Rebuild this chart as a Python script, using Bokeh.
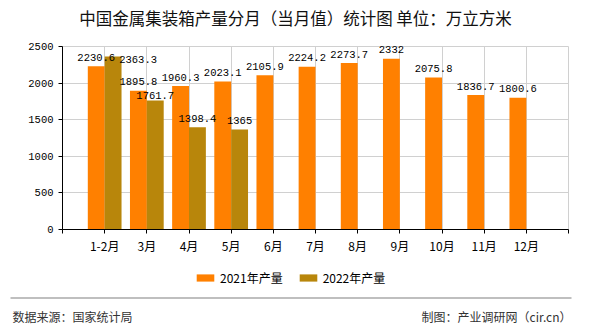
from bokeh.plotting import figure
from bokeh.models import (ColumnDataSource, Range1d, FixedTicker, Legend, LegendItem, Grid)
from bokeh.embed import file_html
from bokeh.resources import INLINE
from bokeh.core.properties import value

# ---------------- data ----------------
title_text = "中国金属集装箱产量分月（当月值）统计图 单位：万立方米"
months = ["1-2月", "3月", "4月", "5月", "6月", "7月", "8月", "9月", "10月", "11月", "12月"]
prod_2021 = [2230.6, 1895.8, 1960.3, 2023.1, 2105.9, 2224.2, 2273.7, 2332, 2075.8, 1836.7, 1800.6]
prod_2022 = [2363.3, 1761.7, 1398.4, 1365]
series_names = ["2021年产量", "2022年产量"]
y_ticks = [0, 500, 1000, 1500, 2000, 2500]
source_text = "数据来源：国家统计局"
maker_text = "制图：产业调研网（cir.cn）"

# ---------------- style ----------------
W, H = 590, 330
FL, FR, FT, FB = 62, 568, 46, 229          # plot-area box on the canvas (px)
c2021 = "#FF8000"
c2022 = "#B8860B"
grid_c = "#D0D0D0"
cjk = "Noto Sans CJK SC"
num_font = "Liberation Mono"
label_gap = -9                 # label baseline above bar top (px)
shift22_x = [25, 0, 0, 0]      # label nudges (px) used to avoid overlaps
shift22_y = [11.5, 4, 0, 0]
bar_w = 0.40
half = 0.20

n = len(months)
x0, x1 = 0, n + 1
y0, y1 = y_ticks[0], y_ticks[-1]
kx = (FR - FL) / (x1 - x0)
ky = (FB - FT) / (y1 - y0)
x_range = Range1d(x0 - FL / kx, x1 + (W - FR) / kx)
y_range = Range1d(y0 - (H - FB) / ky, y1 + FT / ky)

p = figure(width=W, height=H, x_range=x_range, y_range=y_range,
           output_backend="svg", toolbar_location=None, min_border=0)
p.outline_line_color = None
p.extra_x_ranges = {"px": Range1d(0, W)}
p.extra_y_ranges = {"px": Range1d(H, 0)}

pos = [i + 1 for i in range(n)]
src21 = ColumnDataSource(dict(
    x=[q - half for q in pos[:len(prod_2021)]], y=prod_2021,
    t=[f"{v:g}" for v in prod_2021]))
src22 = ColumnDataSource(dict(
    x=[q + half for q in pos[:len(prod_2022)]], y=prod_2022,
    t=[f"{v:g}" for v in prod_2022], dx=shift22_x,
    dy=[label_gap + d for d in shift22_y]))

# grid
p.xgrid.ticker = FixedTicker(ticks=list(range(x0, x1 + 1)))
p.ygrid.ticker = FixedTicker(ticks=y_ticks)
p.xgrid.grid_line_color = grid_c
p.ygrid.grid_line_color = grid_c
if "cross_bounds" in Grid.properties():
    p.xgrid.cross_bounds = (y0, y1)
    p.ygrid.cross_bounds = (x0, x1)
    p.xgrid.bounds = (x0, x1)
    p.ygrid.bounds = (y0, y1)
else:
    p.xgrid.visible = False
    p.ygrid.visible = False
    xs = list(range(x0, x1 + 1))
    p.segment(x0=xs, y0=[y0] * len(xs), x1=xs, y1=[y1] * len(xs), line_color=grid_c)
    p.segment(x0=[x0] * len(y_ticks), y0=y_ticks, x1=[x1] * len(y_ticks), y1=y_ticks,
              line_color=grid_c)

r1 = p.vbar(x="x", top="y", width=bar_w, source=src21, fill_color=c2021, line_color=None)
r2 = p.vbar(x="x", top="y", width=bar_w, source=src22, fill_color=c2022, line_color=None)

p.text(x="x", y="y", text="t", source=src21, text_align="center", text_baseline="alphabetic",
       y_offset=label_gap, text_font=value(num_font), text_font_size="10.5px",
       text_color="black")
p.text(x="x", y="y", text="t", source=src22, text_align="center", text_baseline="alphabetic",
       x_offset="dx", y_offset="dy", text_font=value(num_font), text_font_size="10.5px",
       text_color="black")

# axes (drawn at the data origin)
p.xaxis.fixed_location = y0
p.yaxis.fixed_location = x0
p.xaxis.bounds = (x0, x1)
p.yaxis.bounds = (y0, y1)
p.xaxis.ticker = FixedTicker(ticks=list(range(x0, x1 + 1)))
overrides = {x0: "", x1: ""}
for i, m in enumerate(months):
    overrides[i + 1] = m
p.xaxis.major_label_overrides = overrides
p.xaxis.major_label_text_font = cjk
p.xaxis.major_label_text_font_size = "12px"
p.xaxis.major_label_standoff = 3

p.yaxis.ticker = FixedTicker(ticks=y_ticks)
p.yaxis.major_label_text_font = num_font
p.yaxis.major_label_text_font_size = "10.5px"
p.yaxis.major_label_standoff = 5
for ax in (p.xaxis, p.yaxis):
    ax.major_label_text_color = "black"
    ax.major_tick_in = 0
    ax.major_tick_out = 4
    ax.minor_tick_line_color = None
    ax.axis_line_color = "black"
    ax.major_tick_line_color = "black"

# legend
legend = Legend(items=[LegendItem(label=series_names[0], renderers=[r1]),
                       LegendItem(label=series_names[1], renderers=[r2])],
                location=(194, 44), orientation="horizontal",
                glyph_width=22, glyph_height=9, label_standoff=4, spacing=14,
                label_height=14, label_width=0,
                padding=0, margin=0, border_line_color=None, background_fill_alpha=0,
                label_text_font=cjk, label_text_font_size="12px", label_text_color="black")
p.add_layout(legend, "center")

# title & footer (canvas-pixel coordinates)
p.text(x=[295], y=[17.5], text=[title_text], x_range_name="px", y_range_name="px",
       text_align="center", text_baseline="middle", text_font=value(cjk),
       text_font_size="16.5px", text_color="#111111")
p.segment(x0=[10], y0=[297.5], x1=[571], y1=[297.5], x_range_name="px", y_range_name="px",
          line_color="#808080", line_width=1.2)
p.text(x=[12], y=[316], text=[source_text], x_range_name="px", y_range_name="px",
       text_align="left", text_baseline="middle", text_font=value(cjk),
       text_font_size="12px", text_color="#333333")
p.text(x=[571], y=[316], text=[maker_text], x_range_name="px", y_range_name="px",
       text_align="right", text_baseline="middle", text_font=value(cjk),
       text_font_size="12px", text_color="#333333")

open("out.html", "w").write(file_html(p, INLINE))
